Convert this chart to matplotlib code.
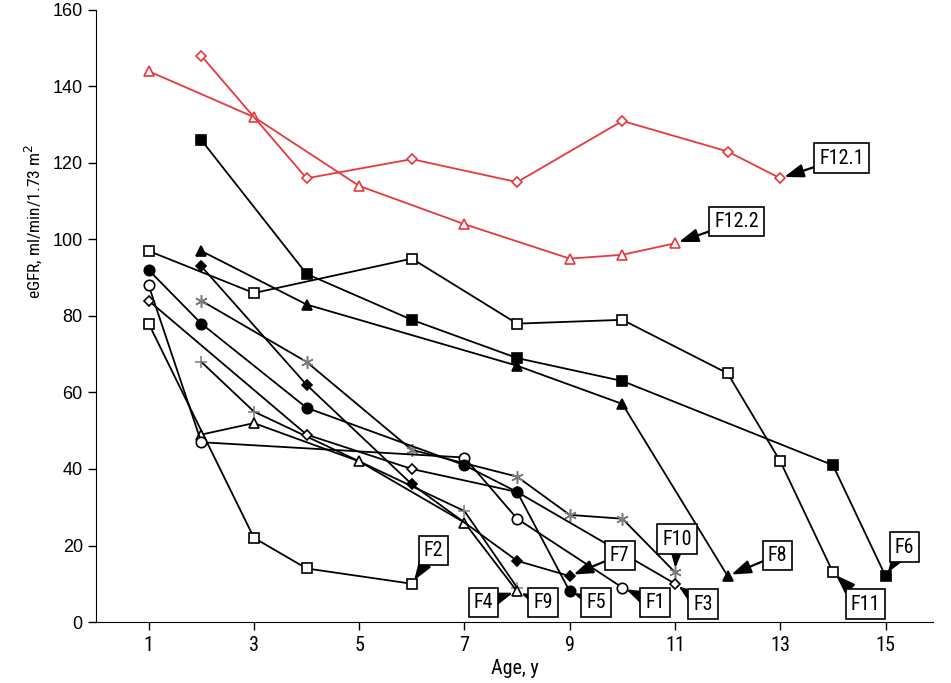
import numpy as np
import matplotlib.pyplot as plt
from matplotlib import font_manager

# pick a narrow face if there is one
narrow = 'Liberation Sans'
for cand in ['Liberation Sans Narrow', 'DejaVu Sans Condensed', 'Roboto Condensed']:
    try:
        font_manager.findfont(cand, fallback_to_default=False)
        narrow = cand
        break
    except Exception:
        pass
plt.rcParams['font.family'] = [narrow, 'DejaVu Sans']

RED = '#e8383d'
GREY = '#7a7a7a'

# data (age in years, eGFR)
f1_x = [1, 2, 7, 8, 10]
f1_y = [88, 47, 43, 27, 9]
f2_x = [1, 3, 4, 6]
f2_y = [78, 22, 14, 10]
f3_x = [1, 4, 6, 8, 11]
f3_y = [84, 49, 40, 34, 10]
f4_x = [2, 3, 5, 7, 8]
f4_y = [49, 52, 42, 26, 8]
f5_x = [1, 2, 4, 7, 8, 9]
f5_y = [92, 78, 56, 41, 34, 8]
f6_x = [2, 4, 6, 8, 10, 14, 15]
f6_y = [126, 91, 79, 69, 63, 41, 12]
f7_x = [2, 4, 6, 8, 9]
f7_y = [93, 62, 36, 16, 12]
f8_x = [2, 4, 8, 10, 12]
f8_y = [97, 83, 67, 57, 12]
f9_x = [2, 3, 7, 8]
f9_y = [68, 55, 29, 9]
f10_x = [2, 4, 6, 8, 9, 10, 11]
f10_y = [84, 68, 45, 38, 28, 27, 13]
f11_x = [1, 3, 6, 8, 10, 12, 13, 14]
f11_y = [97, 86, 95, 78, 79, 65, 42, 13]
f121_x = [2, 4, 6, 8, 10, 12, 13]
f121_y = [148, 116, 121, 115, 131, 123, 116]
f122_x = [1, 3, 5, 7, 9, 10, 11]
f122_y = [144, 132, 114, 104, 95, 96, 99]

# label, target point, box position
labels = ['F12.1', 'F12.2', 'F2', 'F4', 'F9', 'F5', 'F1', 'F3', 'F7', 'F10', 'F8', 'F11', 'F6']
targets = [(13, 116), (11, 99), (6, 10), (8, 8), (8, 8), (9, 8), (10, 9), (11, 10),
           (9, 12), (11, 13), (12, 12), (14, 13), (15, 12)]
boxes = [(14.17, 121.3), (12.17, 104.6), (6.41, 18.6), (7.36, 5.0), (8.49, 5.0), (9.50, 5.0),
         (10.62, 5.0), (11.53, 4.7), (9.95, 17.5), (11.04, 21.7), (12.95, 17.5), (14.62, 4.7),
         (15.36, 19.6)]

fig = plt.figure(figsize=(9.51, 6.83), dpi=100)
ax = fig.add_axes([0.101, 0.0893, 0.880, 0.8961])

lw = 1.3
ms = 7
k = dict(color='k', lw=lw, markeredgecolor='k', markeredgewidth=1.2)

ax.plot(f11_x, f11_y, marker='s', ms=ms, mfc='white', **k)
ax.plot(f6_x, f6_y, marker='s', ms=ms, mfc='k', **k)
ax.plot(f8_x, f8_y, marker='^', ms=ms, mfc='k', **k)
ax.plot(f10_x, f10_y, marker=(6, 2, 0), ms=9, color='k', lw=lw, markeredgecolor=GREY, markeredgewidth=1.1)
ax.plot(f9_x, f9_y, marker='+', ms=9, color='k', lw=lw, markeredgecolor=GREY, markeredgewidth=1.1)
ax.plot(f2_x, f2_y, marker='s', ms=ms, mfc='white', **k)
ax.plot(f4_x, f4_y, marker='^', ms=ms, mfc='white', **k)
ax.plot(f1_x, f1_y, marker='o', ms=ms + 0.5, mfc='white', **k)
ax.plot(f3_x, f3_y, marker='D', ms=5, mfc='white', **k)
ax.plot(f7_x, f7_y, marker='D', ms=5, mfc='k', **k)
ax.plot(f5_x, f5_y, marker='o', ms=ms + 0.5, mfc='k', **k)

r = dict(color=RED, lw=lw, mfc='white', markeredgecolor=RED, markeredgewidth=1.2)
ax.plot(f122_x, f122_y, marker='^', ms=ms, **r)
ax.plot(f121_x, f121_y, marker='D', ms=5.5, **r)

for lab, (tx, ty), (bx, by) in zip(labels, targets, boxes):
    ax.annotate(lab, xy=(tx, ty), xytext=(bx, by), ha='center', va='center', fontsize=14.5,
                bbox=dict(boxstyle='square,pad=0.25', fc='white', ec='k', lw=1.2),
                arrowprops=dict(arrowstyle='-|>,head_length=0.8,head_width=0.28', color='k',
                                lw=1.6, shrinkA=0, shrinkB=3))

ax.set_xlim(0, 15.9)
ax.set_ylim(0, 160)
ax.set_xticks([1, 3, 5, 7, 9, 11, 13, 15])
ax.set_yticks(np.arange(0, 161, 20))
ax.tick_params(axis='x', labelsize=14.5, length=6, width=1, pad=4)
ax.tick_params(axis='y', labelsize=13, length=6, width=1)
for t in ax.get_yticklabels():
    t.set_family('Liberation Sans')
for s in ['top', 'right']:
    ax.spines[s].set_visible(False)
ax.set_xlabel('Age, y', fontsize=14.5, labelpad=3)
ax.set_ylabel('eGFR, ml/min/1.73 m$^2$', fontsize=12.5)
ax.yaxis.set_label_coords(-0.062, 0.655)

fig.savefig('out.png', dpi=100)
